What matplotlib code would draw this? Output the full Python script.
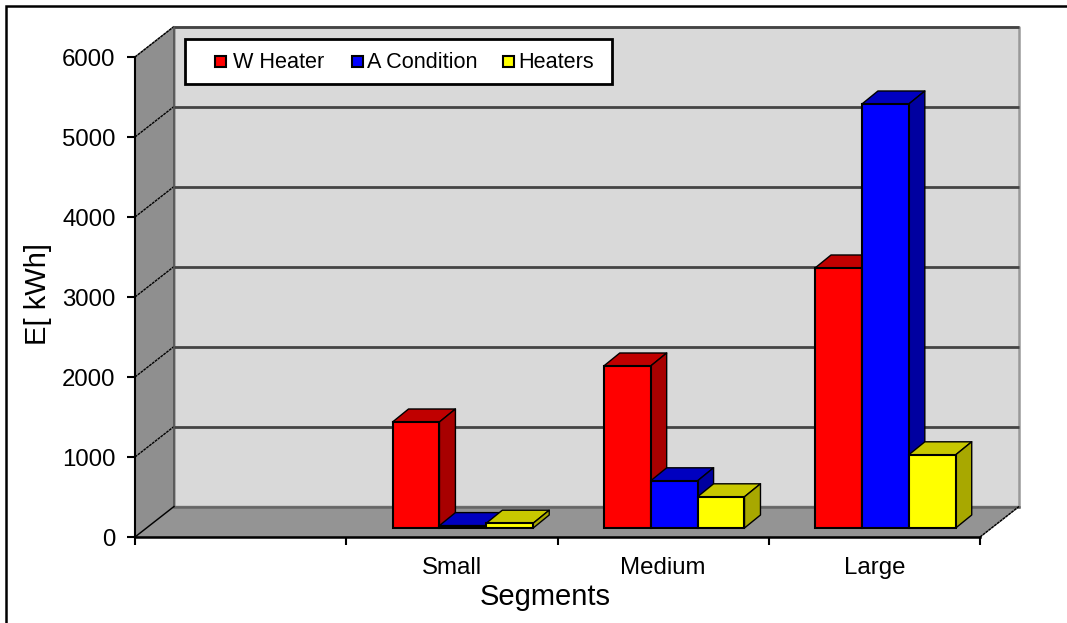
import matplotlib
matplotlib.use('Agg')
import matplotlib.pyplot as plt
from matplotlib.patches import Polygon, Rectangle
import numpy as np

categories = ['', 'Small', 'Medium', 'Large']
w_heater = [np.nan, 1325, 2025, 3250]
a_condition = [np.nan, 30, 590, 5300]
heaters = [np.nan, 60, 390, 915]
y_ticks = [0, 1000, 2000, 3000, 4000, 5000, 6000]
legend_labels = ['W Heater', 'A Condition', 'Heaters']

W, H = 1067, 623
L, R, T, B = 135, 980, 57, 537
PX = 4 / (R - L)  # category units per pixel
PY = 6000 / (B - T)  # kWh per pixel

plt.rcParams['font.family'] = ['Liberation Sans', 'DejaVu Sans']

fig = plt.figure(figsize=(W / 100, H / 100), dpi=100)
fig.patches.append(Rectangle((6 / W, -0.1), 1.1, 1.1 - 6 / H, transform=fig.transFigure,
                             fc='none', ec='black', lw=1.8, zorder=-1))
ax = fig.add_axes([L / W, 1 - B / H, (R - L) / W, (B - T) / H])
ax.set_xlim(0, 4)
ax.set_ylim(0, 6000)
ax.patch.set_visible(False)


def poly(pts, fc, ec='none', lw=0, z=1):
    p = Polygon(pts, closed=True, fc=fc, ec=ec, lw=lw, zorder=z, clip_on=False, joinstyle='round')
    ax.add_patch(p)


def axpx(x, y):
    # image pixel to axes fraction, for the legend box
    return (x - L) / (R - L), (B - y) / (B - T)


# depth of the box, in pixels
dx, dy = 39 * PX, 30.5 * PY

# back wall, side wall, floor
poly([(dx, dy), (4 + dx, dy), (4 + dx, 6000 + dy), (dx, 6000 + dy)], '#d9d9d9', '#999999', 1.8, 1)
poly([(0, 0), (dx, dy), (dx, 6000 + dy), (0, 6000)], '#8f8f8f', '#777777', 1, 1.2)
poly([(0, 0), (4, 0), (4 + dx, dy), (dx, dy)], '#949494', '#808080', 1, 1.2)

for v in y_ticks[1:]:
    ax.plot([dx, 4 + dx], [v + dy, v + dy], color='#444444', lw=2.0, zorder=1.5, clip_on=False,
            solid_capstyle='butt')
    ax.plot([0, dx], [v, v + dy], color='black', lw=1.0, ls=(0, (2, 0.6)), zorder=1.5, clip_on=False)
ax.plot([dx, 4 + dx], [dy, dy], color='#666666', lw=1.8, zorder=1.5, clip_on=False)
ax.plot([dx, dx], [dy, 6000 + dy], color='#555555', lw=1.2, zorder=1.5, clip_on=False)
ax.plot([0, dx], [0, dy], color='black', lw=1.0, zorder=1.5, clip_on=False)
ax.plot([4, 4 + dx], [0, dy], color='black', lw=1.0, ls=(0, (2, 0.6)), zorder=1.5, clip_on=False)

# bars
bw = 46.9 * PX
off_x, off_y = 11 * PX, 9 * PY
bdx, bdy = 16 * PX, 13 * PY
series = [
    (w_heater, '#ff0000', '#c00000', '#a80000'),
    (a_condition, '#0000ff', '#0000c0', '#0000a0'),
    (heaters, '#ffff00', '#c8c800', '#a8a800'),
]
z = 3
for i in range(len(categories)):
    for j, (vals, front, top, side) in enumerate(series):
        v = vals[i]
        if np.isnan(v):
            continue
        x0 = i + 0.5 - 1.5 * bw + j * bw + off_x
        x1 = x0 + bw
        y0 = off_y
        y1 = off_y + v
        poly([(x0, y1), (x1, y1), (x1 + bdx, y1 + bdy), (x0 + bdx, y1 + bdy)], top, 'black', 1.0, z)
        poly([(x1, y0), (x1 + bdx, y0 + bdy), (x1 + bdx, y1 + bdy), (x1, y1)], side, 'black', 1.0, z)
        ax.bar(x0, v, bw, bottom=y0, align='edge', color=front, edgecolor='black', lw=1.5,
               zorder=z + 0.1, clip_on=False)
        z += 0.2

ax.spines['top'].set_visible(False)
ax.spines['right'].set_visible(False)
ax.spines['left'].set_linewidth(1.5)
ax.spines['bottom'].set_linewidth(1.8)
ax.spines['left'].set_zorder(2)
ax.spines['bottom'].set_zorder(2)

ax.set_yticks(y_ticks)
ax.set_xticks(range(5))
ax.set_xticklabels([])
ax.set_xticks(np.arange(4) + 0.5, minor=True)
ax.set_xticklabels(categories, minor=True)
ax.tick_params(axis='x', which='minor', length=0, labelsize=17.3, pad=14.5)
ax.tick_params(axis='x', which='major', length=6, width=1.5)
ax.tick_params(axis='y', length=6, width=1.5, labelsize=17.3, pad=8)

ax.set_xlabel('Segments', fontsize=21)
ax.xaxis.set_label_coords(*axpx(545, 597), transform=ax.transAxes)
ax.xaxis.label.set_va('center')
ax.set_ylabel('E[ kWh]', fontsize=21)
ax.yaxis.set_label_coords(*axpx(38, 294), transform=ax.transAxes)
ax.yaxis.label.set_va('center')

# legend box, placed by hand as its spacing is uneven
x0, y0 = axpx(185, 84)
x1, y1 = axpx(612, 39)
ax.add_patch(Rectangle((x0, y0), x1 - x0, y1 - y0, transform=ax.transAxes, fc='white', ec='black',
                       lw=2, zorder=10, clip_on=False))
key_x = [215, 352, 503]
text_x = [233, 367, 518]
for kx, tx, label, s in zip(key_x, text_x, legend_labels, series):
    kx0, ky0 = axpx(kx, 67)
    kx1, ky1 = axpx(kx + 11, 56)
    ax.add_patch(Rectangle((kx0, ky0), kx1 - kx0, ky1 - ky0, transform=ax.transAxes, fc=s[1],
                           ec='black', lw=1.5, zorder=11, clip_on=False))
    tx0, ty0 = axpx(tx, 63)
    ax.text(tx0, ty0, label, transform=ax.transAxes, fontsize=15.6, va='center', ha='left', zorder=11)

fig.savefig('out.png', dpi=100)
